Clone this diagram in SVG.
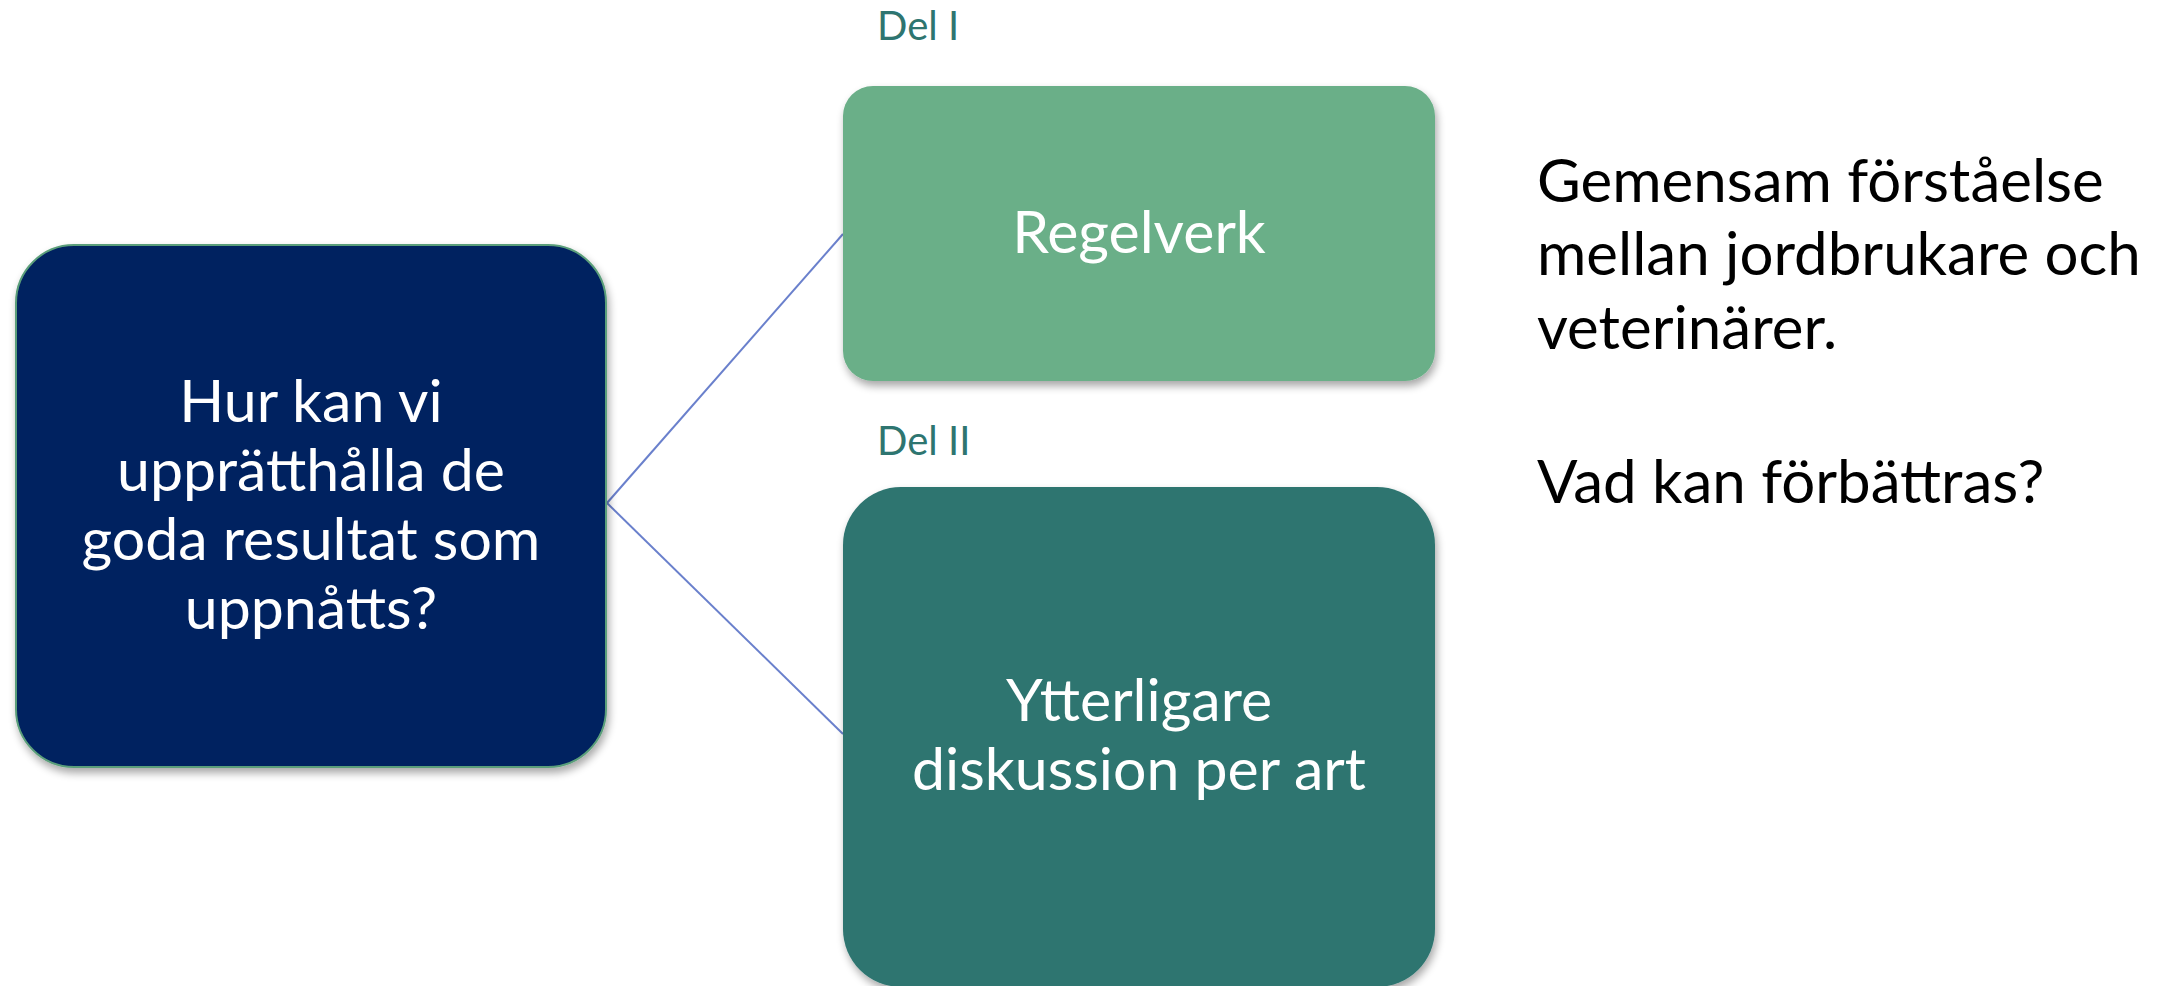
<svg xmlns="http://www.w3.org/2000/svg" width="2159" height="986" viewBox="0 0 2159 986">
<style>
.t{font-family:Lato,"Open Sans","Liberation Sans",sans-serif}
.w{fill:#ffffff;text-anchor:middle;font-size:59px}
.del{fill:#2e7570;font-size:40px}
.r{fill:#000000;font-size:60px}
.conn{stroke:#6a80cc;stroke-width:2;fill:none}
</style>
<defs>
<filter id="sh" x="-10%" y="-10%" width="120%" height="120%">
<feGaussianBlur in="SourceAlpha" stdDeviation="4"/>
<feOffset dx="2" dy="5" result="b"/>
<feComponentTransfer><feFuncA type="linear" slope="0.35"/></feComponentTransfer>
<feMerge><feMergeNode/><feMergeNode in="SourceGraphic"/></feMerge>
</filter>
</defs>
<rect width="2159" height="986" fill="#ffffff"/>
<g id="connectors">
<line class="conn" x1="607" y1="503" x2="843" y2="234"/>
<line class="conn" x1="607" y1="503" x2="843" y2="734"/>
</g>
<g id="node-question">
<rect x="16" y="245" width="590" height="522" rx="58" fill="#022060" stroke="#5a9e7a" stroke-width="2" filter="url(#sh)"/>
<text class="t w"><tspan x="311" y="422">Hur kan vi</tspan><tspan x="311" y="491">upprätthålla de</tspan><tspan x="311" y="560">goda resultat som</tspan><tspan x="311" y="629">uppnåtts?</tspan></text>
</g>
<g id="label-del1"><text class="t del" x="877" y="40">Del I</text></g>
<g id="node-regelverk">
<rect x="843" y="86" width="592" height="295" rx="30" fill="#6baf88" filter="url(#sh)"/>
<text class="t w" x="1139" y="253">Regelverk</text>
</g>
<g id="label-del2"><text class="t del" x="877" y="455">Del II</text></g>
<g id="node-ytterligare">
<rect x="843" y="487" width="592" height="500" rx="58" fill="#2e7570" filter="url(#sh)"/>
<text class="t w"><tspan x="1139" y="721">Ytterligare</tspan><tspan x="1139" y="790">diskussion per art</tspan></text>
</g>
<g id="note">
<text class="t r"><tspan x="1537" y="202">Gemensam förståelse</tspan><tspan x="1537" y="275">mellan jordbrukare och</tspan><tspan x="1537" y="349">veterinärer.</tspan><tspan x="1537" y="503">Vad kan förbättras?</tspan></text>
</g>
</svg>
